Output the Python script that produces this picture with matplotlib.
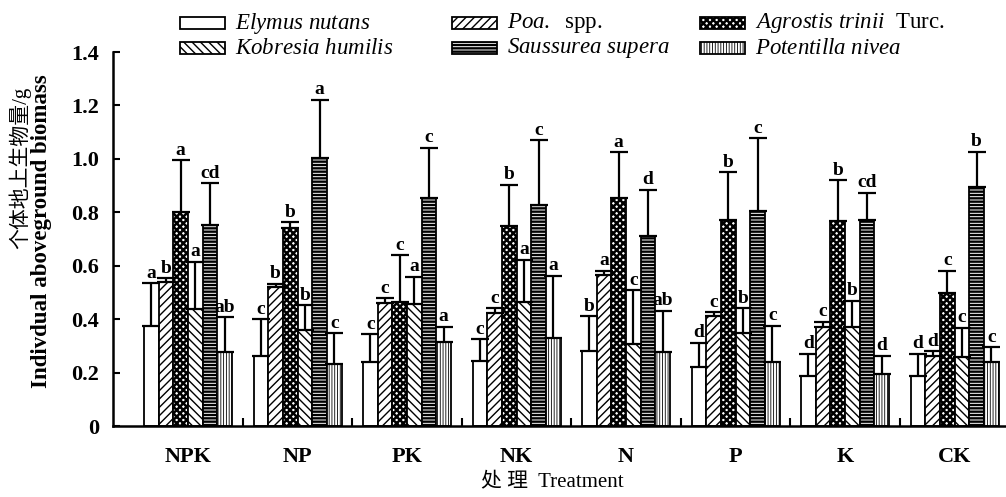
import matplotlib
matplotlib.use('Agg')
import matplotlib.pyplot as plt
from matplotlib.patches import Rectangle
import numpy as np

plt.rcParams['font.family'] = ['Liberation Serif', 'Noto Sans CJK SC', 'DejaVu Sans']
plt.rcParams['mathtext.fontset'] = 'custom'
plt.rcParams['mathtext.it'] = 'Liberation Serif:italic'
plt.rcParams['mathtext.rm'] = 'Liberation Serif'

treatments = ['NPK', 'NP', 'PK', 'NK', 'N', 'P', 'K', 'CK']
legend_labels = [r'$\it{Elymus\ nutans}$', r'$\it{Poa.}$  spp.',
                 r'$\it{Agrostis\ trinii}$  Turc.', r'$\it{Kobresia\ humilis}$',
                 r'$\it{Saussurea\ supera}$', r'$\it{Potentilla\ nivea}$']

# mean values per species across treatments
elymus = [0.375, 0.263, 0.239, 0.243, 0.282, 0.220, 0.189, 0.189]
poa = [0.540, 0.522, 0.462, 0.422, 0.566, 0.410, 0.372, 0.263]
agrostis = [0.800, 0.743, 0.466, 0.747, 0.853, 0.772, 0.768, 0.497]
kobresia = [0.437, 0.360, 0.456, 0.466, 0.306, 0.347, 0.372, 0.260]
saussurea = [0.753, 1.003, 0.853, 0.828, 0.713, 0.806, 0.772, 0.894]
potentilla = [0.278, 0.231, 0.313, 0.328, 0.278, 0.241, 0.194, 0.239]

# standard errors (upper bars)
elymus_err = [0.159, 0.137, 0.104, 0.082, 0.130, 0.092, 0.081, 0.081]
poa_err = [0.013, 0.010, 0.016, 0.018, 0.015, 0.016, 0.018, 0.018]
agrostis_err = [0.196, 0.019, 0.174, 0.156, 0.172, 0.177, 0.153, 0.084]
kobresia_err = [0.178, 0.093, 0.103, 0.156, 0.203, 0.093, 0.097, 0.108]
saussurea_err = [0.156, 0.218, 0.189, 0.243, 0.171, 0.271, 0.102, 0.133]
potentilla_err = [0.129, 0.116, 0.059, 0.235, 0.153, 0.135, 0.069, 0.056]

# significance letters
elymus_sig = ['a', 'c', 'c', 'c', 'b', 'd', 'd', 'd']
poa_sig = ['b', 'b', 'c', 'c', 'a', 'c', 'c', 'd']
agrostis_sig = ['a', 'b', 'c', 'b', 'a', 'b', 'b', 'c']
kobresia_sig = ['a', 'b', 'a', 'a', 'c', 'b', 'b', 'c']
saussurea_sig = ['cd', 'a', 'c', 'c', 'd', 'c', 'cd', 'b']
potentilla_sig = ['ab', 'c', 'a', 'a', 'ab', 'c', 'd', 'c']

values = [elymus, poa, agrostis, kobresia, saussurea, potentilla]
errors = [elymus_err, poa_err, agrostis_err, kobresia_err, saussurea_err, potentilla_err]
sigs = [elymus_sig, poa_sig, agrostis_sig, kobresia_sig, saussurea_sig, potentilla_sig]

hatches = ['', '////', 'xxxxx', '\\\\\\\\', '-----', '||||||']
hatch_lw = [1.0, 1.0, 1.8, 1.0, 1.7, 0.6]

fig = plt.figure(figsize=(10.06, 4.97), dpi=100)
ax = fig.add_axes([113 / 1006, 71 / 497, 892 / 1006, 374 / 497])

x = np.arange(len(treatments))
w = 0.134
for j in range(6):
    xs = x + (j - 2.5) * w
    with plt.rc_context({'hatch.linewidth': hatch_lw[j]}):
        ax.bar(xs, values[j], width=w, facecolor='white', edgecolor='black',
               linewidth=1.3, hatch=hatches[j], zorder=2)
    ax.errorbar(xs, values[j], yerr=[np.zeros(8), errors[j]], fmt='none',
                ecolor='black', elinewidth=1.6, capsize=6.5, capthick=1.6, zorder=3)
    for i in range(8):
        ax.annotate(sigs[j][i], xy=(xs[i], values[j][i] + errors[j][i]),
                    xytext=(0, 1), textcoords='offset points',
                    ha='center', va='bottom', fontsize=14, fontweight='bold')

ax.set_xlim(-0.685, 7.46)
ax.set_ylim(0, 1.4)
ax.set_yticks(np.arange(0, 1.41, 0.2))
ax.set_yticklabels(['0', '0.2', '0.4', '0.6', '0.8', '1.0', '1.2', '1.4'])
ax.set_xticks(x)
ax.set_xticklabels(treatments)
ax.set_xticks(x[:-1] + 0.5, minor=True)
ax.tick_params(axis='y', direction='in', length=5, width=1.5, labelsize=16, pad=10)
ax.tick_params(axis='x', which='major', length=0, labelsize=16, pad=15)
ax.tick_params(axis='x', which='minor', direction='in', length=6, width=1.5)
for lab in ax.get_xticklabels() + ax.get_yticklabels():
    lab.set_fontweight('bold')
for s in ['top', 'right']:
    ax.spines[s].set_visible(False)
for s in ['left', 'bottom']:
    ax.spines[s].set_linewidth(1.8)

# manual legend
col_x = [180, 452, 700]
row_y = [23, 48]
for j in range(6):
    r, c = j // 3, j % 3
    with plt.rc_context({'hatch.linewidth': hatch_lw[j]}):
        rect = Rectangle((col_x[c] / 1006, 1 - (row_y[r] + 5.5) / 497), 45 / 1006, 11 / 497,
                         transform=fig.transFigure, facecolor='white', edgecolor='black',
                         linewidth=1.3, hatch=hatches[j])
    fig.add_artist(rect)
    fig.text((col_x[c] + 55) / 1006, 1 - row_y[r] / 497, legend_labels[j],
             fontsize=16.5, ha='left', va='center')

fig.text(20 / 1006, 1 - 168 / 497, '个体地上生物量/g', rotation=90, ha='center', va='center',
         fontsize=15, family=['Liberation Serif', 'Noto Sans CJK SC', 'DejaVu Sans'])
fig.text(42 / 1006, 1 - 231 / 497, 'Indivdual aboveground biomass', rotation=90, ha='center',
         va='center', fontsize=16.5, fontweight='bold')
fig.text(552 / 1006, 1 - 483 / 497, '处 理  Treatment', ha='center', va='center',
         fontsize=15, family=['Liberation Serif', 'Noto Sans CJK SC', 'DejaVu Sans'])

fig.savefig('out.png', dpi=100)
